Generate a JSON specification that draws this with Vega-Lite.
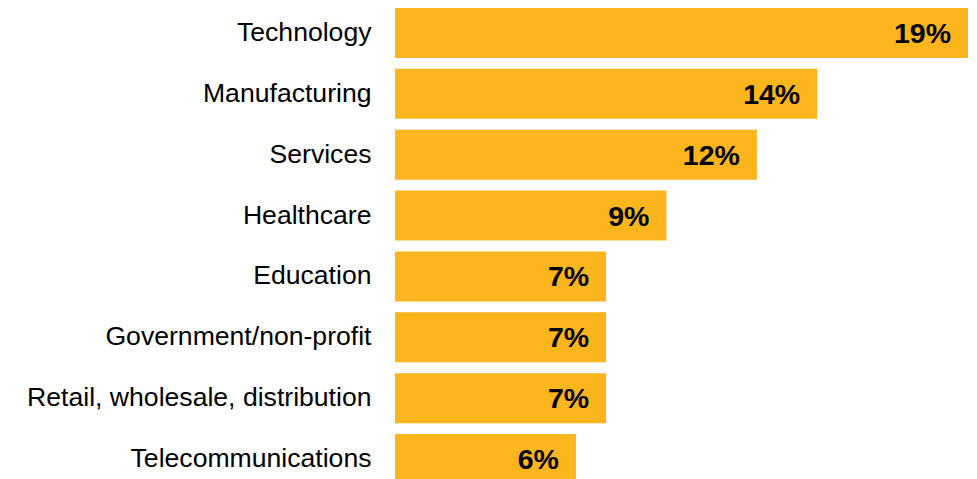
{
  "$schema": "https://vega.github.io/schema/vega-lite/v6.json",
  "autosize": "none",
  "padding": {"left": 395, "top": 0, "right": 0, "bottom": 0},
  "width": 573,
  "height": 492,
  "background": "white",
  "config": {"view": {"stroke": null}},
  "data": {
    "values": [
      {"industry": "Technology", "value": 19},
      {"industry": "Manufacturing", "value": 14},
      {"industry": "Services", "value": 12},
      {"industry": "Healthcare", "value": 9},
      {"industry": "Education", "value": 7},
      {"industry": "Government/non-profit", "value": 7},
      {"industry": "Retail, wholesale, distribution", "value": 7},
      {"industry": "Telecommunications", "value": 6}
    ]
  },
  "encoding": {
    "y": {
      "field": "industry",
      "type": "nominal",
      "sort": null,
      "scale": {"paddingInner": 0.18, "paddingOuter": 0.131},
      "axis": {
        "title": null,
        "domain": false,
        "ticks": false,
        "labelPadding": 24,
        "labelFont": "Liberation Sans",
        "labelFontSize": 26.6,
        "labelColor": "#000000",
        "labelLimit": 500,
        "labelOffset": 0
      }
    },
    "x": {
      "field": "value",
      "type": "quantitative",
      "scale": {"domain": [0, 19], "nice": false},
      "axis": null
    }
  },
  "layer": [
    {"mark": {"type": "bar", "color": "#FDB51E"}},
    {
      "mark": {
        "type": "text",
        "align": "right",
        "baseline": "middle",
        "dx": -17,
        "dy": 1,
        "font": "Liberation Sans",
        "fontSize": 28.5,
        "fontWeight": "bold",
        "color": "#000000",
        "text": {"expr": "datum.value + '%'"}
      }
    }
  ]
}
